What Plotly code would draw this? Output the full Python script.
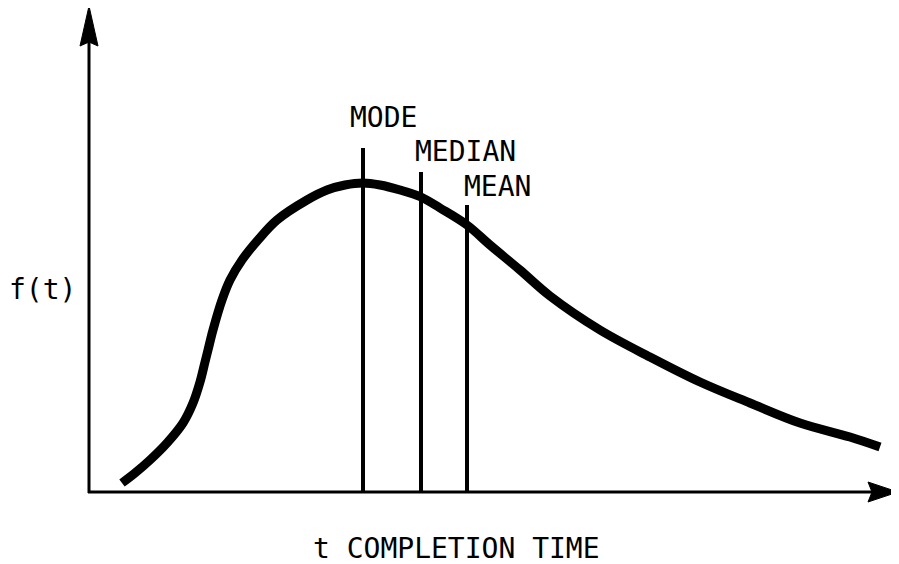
import plotly.graph_objects as go

# Curve (arbitrary units: t to the right, f upward)
t_vals = [32, 45, 60, 77, 93, 103, 110, 115, 118, 123, 132, 140, 152, 168, 187, 217,
          237, 255, 273, 290, 310, 331, 350, 377, 400, 430, 460, 510, 560, 610, 660,
          710, 760, 790]
f_vals = [9, 19, 32, 49, 69, 89, 110, 130, 142, 162, 192, 212, 232, 252, 272, 292,
          302, 307, 309, 307, 302, 295, 284, 267, 247, 222, 196, 162, 135, 110, 89,
          69, 55, 45]

stat_names = ["MODE", "MEDIAN", "MEAN"]
stat_t = [273, 331, 377]
stat_top = [344, 320, 287]
label_t = [293, 375, 407]
label_f = [375, 341, 306]

y_label = "f(t)"
x_label = "t COMPLETION TIME"

FONT = "DejaVu Sans Mono"
FS = 28
# the page body has an 8px margin, so the figure is drawn 8px in and sized to fit
X_MIN, X_MAX = -82, 809
Y_MIN, Y_MAX = -72, 484

fig = go.Figure()

# axes lines
fig.add_trace(go.Scatter(x=[-2, 785], y=[0, 0], mode="lines",
                         line=dict(color="black", width=3), hoverinfo="skip"))
fig.add_trace(go.Scatter(x=[-1, -1], y=[-1, 450], mode="lines",
                         line=dict(color="black", width=3), hoverinfo="skip"))

# stat vertical lines
for t, top in zip(stat_t, stat_top):
    fig.add_trace(go.Scatter(x=[t, t], y=[0, top], mode="lines",
                             line=dict(color="black", width=4), hoverinfo="skip"))

# the density curve
fig.add_trace(go.Scatter(x=t_vals, y=f_vals, mode="lines", line_shape="spline",
                         line=dict(color="black", width=9), hoverinfo="skip"))

shapes = [
    # y-axis arrowhead
    dict(type="path", xref="x", yref="y",
         path="M -1 486 L -10 446 L -1 450 L 8 446 Z",
         fillcolor="black", line=dict(color="black", width=1)),
    # x-axis arrowhead
    dict(type="path", xref="x", yref="y",
         path="M 808 0 L 778 10 L 782 0 L 778 -10 Z",
         fillcolor="black", line=dict(color="black", width=1)),
]

annotations = []
for name, tx, fy in zip(stat_names, label_t, label_f):
    annotations.append(dict(x=tx, y=fy, xref="x", yref="y", text=name, showarrow=False,
                            font=dict(family=FONT, size=FS, color="black"),
                            xanchor="center", yanchor="middle"))
annotations.append(dict(x=-48, y=203, xref="x", yref="y", text=y_label, showarrow=False,
                        font=dict(family=FONT, size=FS, color="black"),
                        xanchor="center", yanchor="middle"))
annotations.append(dict(x=366, y=-56, xref="x", yref="y", text=x_label, showarrow=False,
                        font=dict(family=FONT, size=FS, color="black"),
                        xanchor="center", yanchor="middle"))

fig.update_layout(
    width=891, height=556,
    margin=dict(l=0, r=0, t=0, b=0),
    paper_bgcolor="white", plot_bgcolor="white",
    showlegend=False,
    xaxis=dict(range=[X_MIN, X_MAX], visible=False, fixedrange=True),
    yaxis=dict(range=[Y_MIN, Y_MAX], visible=False, fixedrange=True),
    shapes=shapes,
    annotations=annotations,
)

fig.write_html("out.html")
